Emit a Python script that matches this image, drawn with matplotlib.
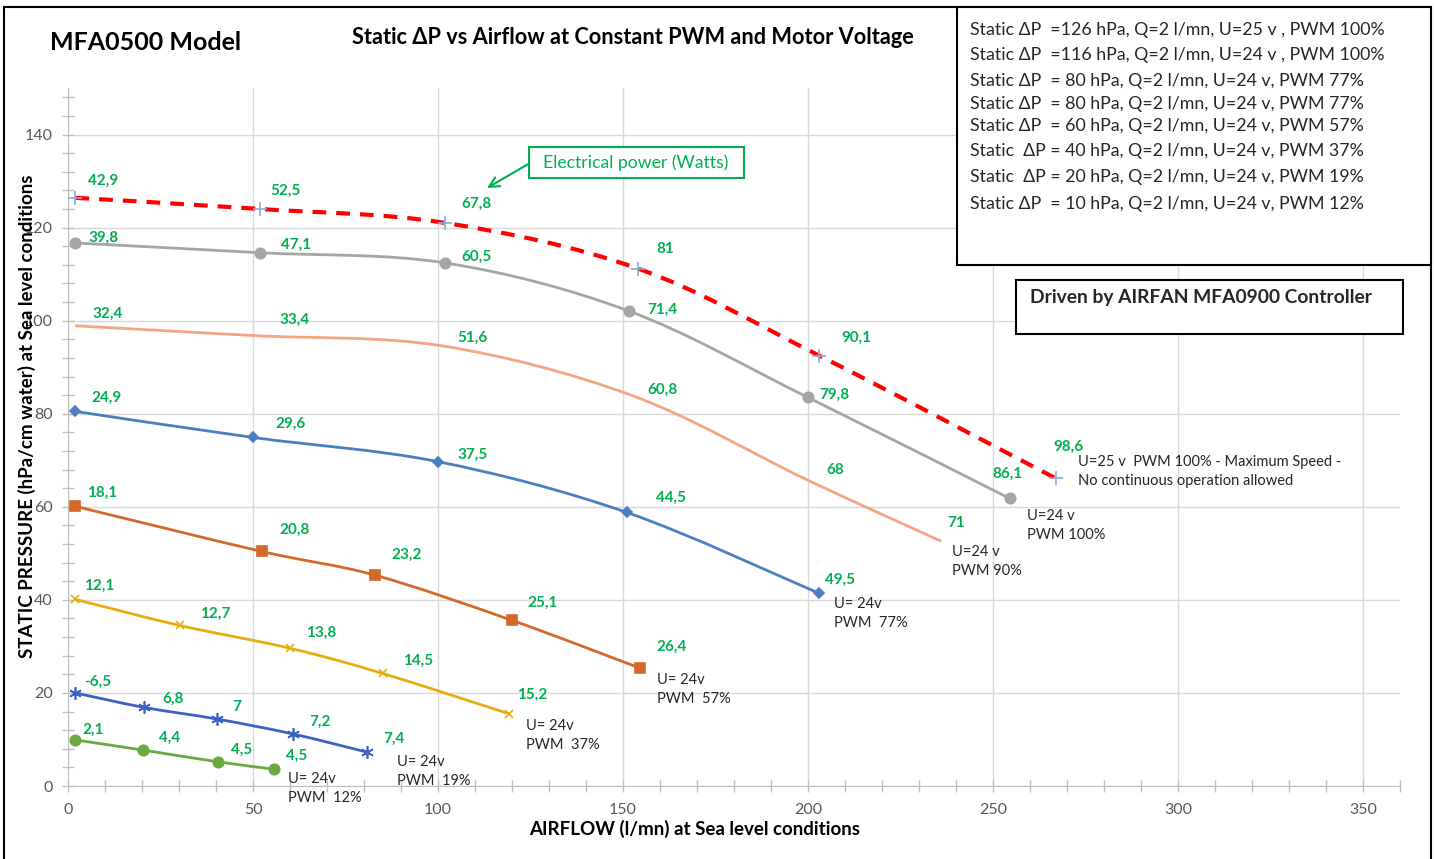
import numpy as np
import matplotlib.pyplot as plt
from matplotlib.path import Path
from matplotlib.patches import PathPatch, Rectangle
from matplotlib.ticker import MultipleLocator

plt.rcParams['font.family'] = ['Lato', 'DejaVu Sans']

# airflow (l/mn), static pressure (hPa), electrical power labels (W)
q_25_100 = [2, 52, 102, 154, 203, 267]
p_25_100 = [126.4, 124, 121, 111.2, 92.5, 66.1]
w_25_100 = ["42,9", "52,5", "67,8", "81", "90,1", "98,6"]

q_24_100 = [2, 52, 102, 151.5, 200, 254.5]
p_24_100 = [116.7, 114.6, 112.4, 102.1, 83.5, 61.8]
w_24_100 = ["39,8", "47,1", "60,5", "71,4", "79,8", "86,1"]

q_24_90 = [2, 50, 101, 152.5, 200, 236]
p_24_90 = [98.9, 96.8, 94.6, 83.9, 65.7, 52.6]
w_24_90 = ["32,4", "33,4", "51,6", "60,8", "68", "71"]

q_24_77 = [2, 50, 100, 151, 203]
p_24_77 = [80.5, 74.9, 69.7, 58.8, 41.4]
w_24_77 = ["24,9", "29,6", "37,5", "44,5", "49,5"]

q_24_57 = [2, 52.4, 83, 120, 154.7]
p_24_57 = [60.1, 50.4, 45.3, 35.6, 25.3]
w_24_57 = ["18,1", "20,8", "23,2", "25,1", "26,4"]

q_24_37 = [2, 30.2, 60, 85, 119.3]
p_24_37 = [40.1, 34.5, 29.6, 24.2, 15.5]
w_24_37 = ["12,1", "12,7", "13,8", "14,5", "15,2"]

q_24_19 = [2, 20.5, 40.2, 60.7, 80.7]
p_24_19 = [20, 16.9, 14.4, 11.2, 7.3]
w_24_19 = ["-6,5", "6,8", "7", "7,2", "7,4"]

q_24_12 = [2, 20.4, 40.5, 55.7]
p_24_12 = [9.9, 7.7, 5.2, 3.6]
w_24_12 = ["2,1", "4,4", "4,5", "4,5"]

end_labels = ["U=25 v  PWM 100% - Maximum Speed -\nNo continuous operation allowed",
              "U=24 v\nPWM 100%", "U=24 v\nPWM 90%", "U= 24v\nPWM  77%",
              "U= 24v\nPWM  57%", "U= 24v\nPWM  37%", "U= 24v\nPWM  19%",
              "U= 24v\nPWM  12%"]

legend_lines = [
    "Static \u0394P  =126 hPa, Q=2 l/mn, U=25 v , PWM 100%",
    "Static \u0394P  =116 hPa, Q=2 l/mn, U=24 v , PWM 100%",
    "Static \u0394P  = 80 hPa, Q=2 l/mn, U=24 v, PWM 77%",
    "Static \u0394P  = 80 hPa, Q=2 l/mn, U=24 v, PWM 77%",
    "Static \u0394P  = 60 hPa, Q=2 l/mn, U=24 v, PWM 57%",
    "Static  \u0394P = 40 hPa, Q=2 l/mn, U=24 v, PWM 37%",
    "Static  \u0394P = 20 hPa, Q=2 l/mn, U=24 v, PWM 19%",
    "Static \u0394P  = 10 hPa, Q=2 l/mn, U=24 v, PWM 12%",
]

W, H = 1434, 859
GREEN = '#00B050'


def fx(px):
    return px / W


def fy(py):
    return 1 - py / H


def smooth_path(xs, ys):
    # excel-like smoothed line (bezier through the points)
    pts = np.column_stack([xs, ys]).astype(float)
    n = len(pts)
    verts = [pts[0]]
    codes = [Path.MOVETO]
    for i in range(n - 1):
        p0 = pts[max(i - 1, 0)]
        p1 = pts[i]
        p2 = pts[i + 1]
        p3 = pts[min(i + 2, n - 1)]
        verts += [p1 + (p2 - p0) / 6, p2 - (p3 - p1) / 6, p2]
        codes += [Path.CURVE4] * 3
    return Path(verts, codes)


fig = plt.figure(figsize=(W / 100, H / 100), dpi=100)
ax = fig.add_axes([fx(68), fy(786), (1400 - 68) / W, (786 - 88) / H])

# (q, p, watts, color, lw, linestyle, marker, msize, label offsets px, end label offset px)
series = [
    (q_25_100, p_25_100, w_25_100, '#FF0000', 3.0, (0, (3.3, 2.4)), '+', 10,
     [(28, -17), (25, -18), (31, -19), (27, -20), (37, -18), (13, -32)], (22, -23)),
    (q_24_100, p_24_100, w_24_100, '#A5A5A5', 2.0, '-', 'o', 7.5,
     [(28, -5), (36, -8), (31, -6), (34, -1), (26, -3), (-2, -25)], (17, 11)),
    (q_24_90, p_24_90, w_24_90, '#F4A582', 2.0, '-', None, 0,
     [(32, -12), (42, -16), (31, -8), (30, -6), (27, -10), (15, -18)], (11, 4)),
    (q_24_77, p_24_77, w_24_77, '#4A80C0', 2.0, '-', 'D', 5,
     [(31, -14), (37, -14), (35, -7), (44, -15), (21, -14)], (15, 4)),
    (q_24_57, p_24_57, w_24_57, '#D5682A', 2.0, '-', 's', 7.5,
     [(27, -14), (33, -22), (32, -20), (31, -18), (31, -21)], (17, 5)),
    (q_24_37, p_24_37, w_24_37, '#E5AE0E', 2.0, '-', 'x', 6,
     [(24, -14), (35, -12), (31, -15), (36, -13), (23, -19)], (17, 5)),
    (q_24_19, p_24_19, w_24_19, '#3D62C4', 2.0, '-', (6, 2, 0), 9,
     [(22, -11), (29, -9), (20, -12), (27, -12), (27, -13)], (30, 3)),
    (q_24_12, p_24_12, w_24_12, '#6AAA3F', 2.0, '-', 'o', 7.5,
     [(18, -10), (26, -12), (24, -12), (23, -13)], (14, 3)),
]

for (q, p, watts, col, lw, ls, mk, ms, offs, eoff), elab in zip(series, end_labels):
    ax.add_patch(PathPatch(smooth_path(q, p), fill=False, edgecolor=col,
                           lw=lw, linestyle=ls, capstyle='butt', zorder=3))
    if mk is not None:
        mcol = '#8FA8DA' if mk == '+' else col
        ax.plot(q, p, linestyle='none', marker=mk, ms=ms, color=mcol,
                mec=mcol, mew=1.2, zorder=4)
    for x, y, w, (dx, dy) in zip(q, p, watts, offs):
        ax.annotate(w, (x, y), xytext=(dx * 0.72, -dy * 0.72),
                    textcoords='offset points', ha='center', va='center',
                    color=GREEN, fontsize=11, fontweight='bold', zorder=5)
    ax.annotate(elab, (q[-1], p[-1]), xytext=(eoff[0] * 0.72, -eoff[1] * 0.72),
                textcoords='offset points', ha='left', va='top',
                color='#262626', fontsize=10.5, linespacing=1.45,
                annotation_clip=False, zorder=5)

ax.set_xlim(0, 360)
ax.set_ylim(0, 150)
ax.xaxis.set_major_locator(MultipleLocator(50))
ax.xaxis.set_minor_locator(MultipleLocator(10))
ax.yaxis.set_major_locator(MultipleLocator(20))
ax.yaxis.set_minor_locator(MultipleLocator(4))
ax.grid(which='major', color='#d9d9d9', lw=1)
ax.set_axisbelow(True)
for s in ['top', 'right']:
    ax.spines[s].set_visible(False)
for s in ['left', 'bottom']:
    ax.spines[s].set_color('#bfbfbf')
ax.tick_params(which='both', direction='inout', length=8, width=1,
               color='#bfbfbf', labelcolor='#595959', labelsize=11.5)
ax.tick_params(axis='y', pad=7)
ax.tick_params(axis='x', pad=8)

ax.set_ylabel("STATIC PRESSURE (hPa/cm water) at Sea level conditions",
              fontsize=13.5, fontweight='bold', color='black')
ax.yaxis.set_label_coords((36 - 68) / 1332, (786 - 416) / 698)
ax.set_xlabel("AIRFLOW (l/mn) at Sea level conditions",
              fontsize=13.5, fontweight='bold', color='black')
ax.xaxis.set_label_coords((695 - 68) / 1332, -(820 - 786) / 698)

# titles
fig.text(fx(50), fy(43), "MFA0500 Model", fontsize=18, fontweight='bold',
         ha='left', va='center')
fig.text(fx(352), fy(38), "Static \u0394P vs Airflow at Constant PWM and Motor Voltage",
         fontsize=15.7, fontweight='bold', ha='left', va='center')

# outer frame
fig.add_artist(Rectangle((fx(4), fy(865)), fx(1431 - 4), (865 - 7) / H,
                         transform=fig.transFigure, fill=False, ec='black', lw=1.5))

# settings box
fig.add_artist(Rectangle((fx(957), fy(265)), fx(1431 - 957), (265 - 7) / H,
                         transform=fig.transFigure, fc='white', ec='black', lw=1.5,
                         zorder=6))
legend_y = [30, 55, 81, 104, 126, 151, 177, 204]
for txt, py in zip(legend_lines, legend_y):
    fig.text(fx(970), fy(py), txt, fontsize=12.8, ha='left', va='center',
             color='#262626', zorder=7)

# controller box
fig.add_artist(Rectangle((fx(1016), fy(334)), fx(1403 - 1016), (334 - 280) / H,
                         transform=fig.transFigure, fc='white', ec='black', lw=1.5,
                         zorder=6))
fig.text(fx(1030), fy(297), "Driven by AIRFAN MFA0900 Controller", fontsize=13.9,
         fontweight='bold', ha='left', va='center', color='#262626', zorder=7)

# electrical power call-out
fig.add_artist(Rectangle((fx(529), fy(178)), fx(744 - 529), (178 - 147) / H,
                         transform=fig.transFigure, fc='white', ec=GREEN, lw=1.5,
                         zorder=6))
fig.text(fx(636), fy(163), "Electrical power (Watts)", fontsize=12.7, color=GREEN,
         ha='center', va='center', zorder=7)
ax.annotate('', xy=(487, H - 188), xycoords='figure pixels',
            xytext=(530, H - 163), textcoords='figure pixels',
            arrowprops=dict(arrowstyle='->', color=GREEN, lw=1.5,
                            mutation_scale=18, shrinkA=0, shrinkB=0))

fig.savefig("out.png", dpi=100)
